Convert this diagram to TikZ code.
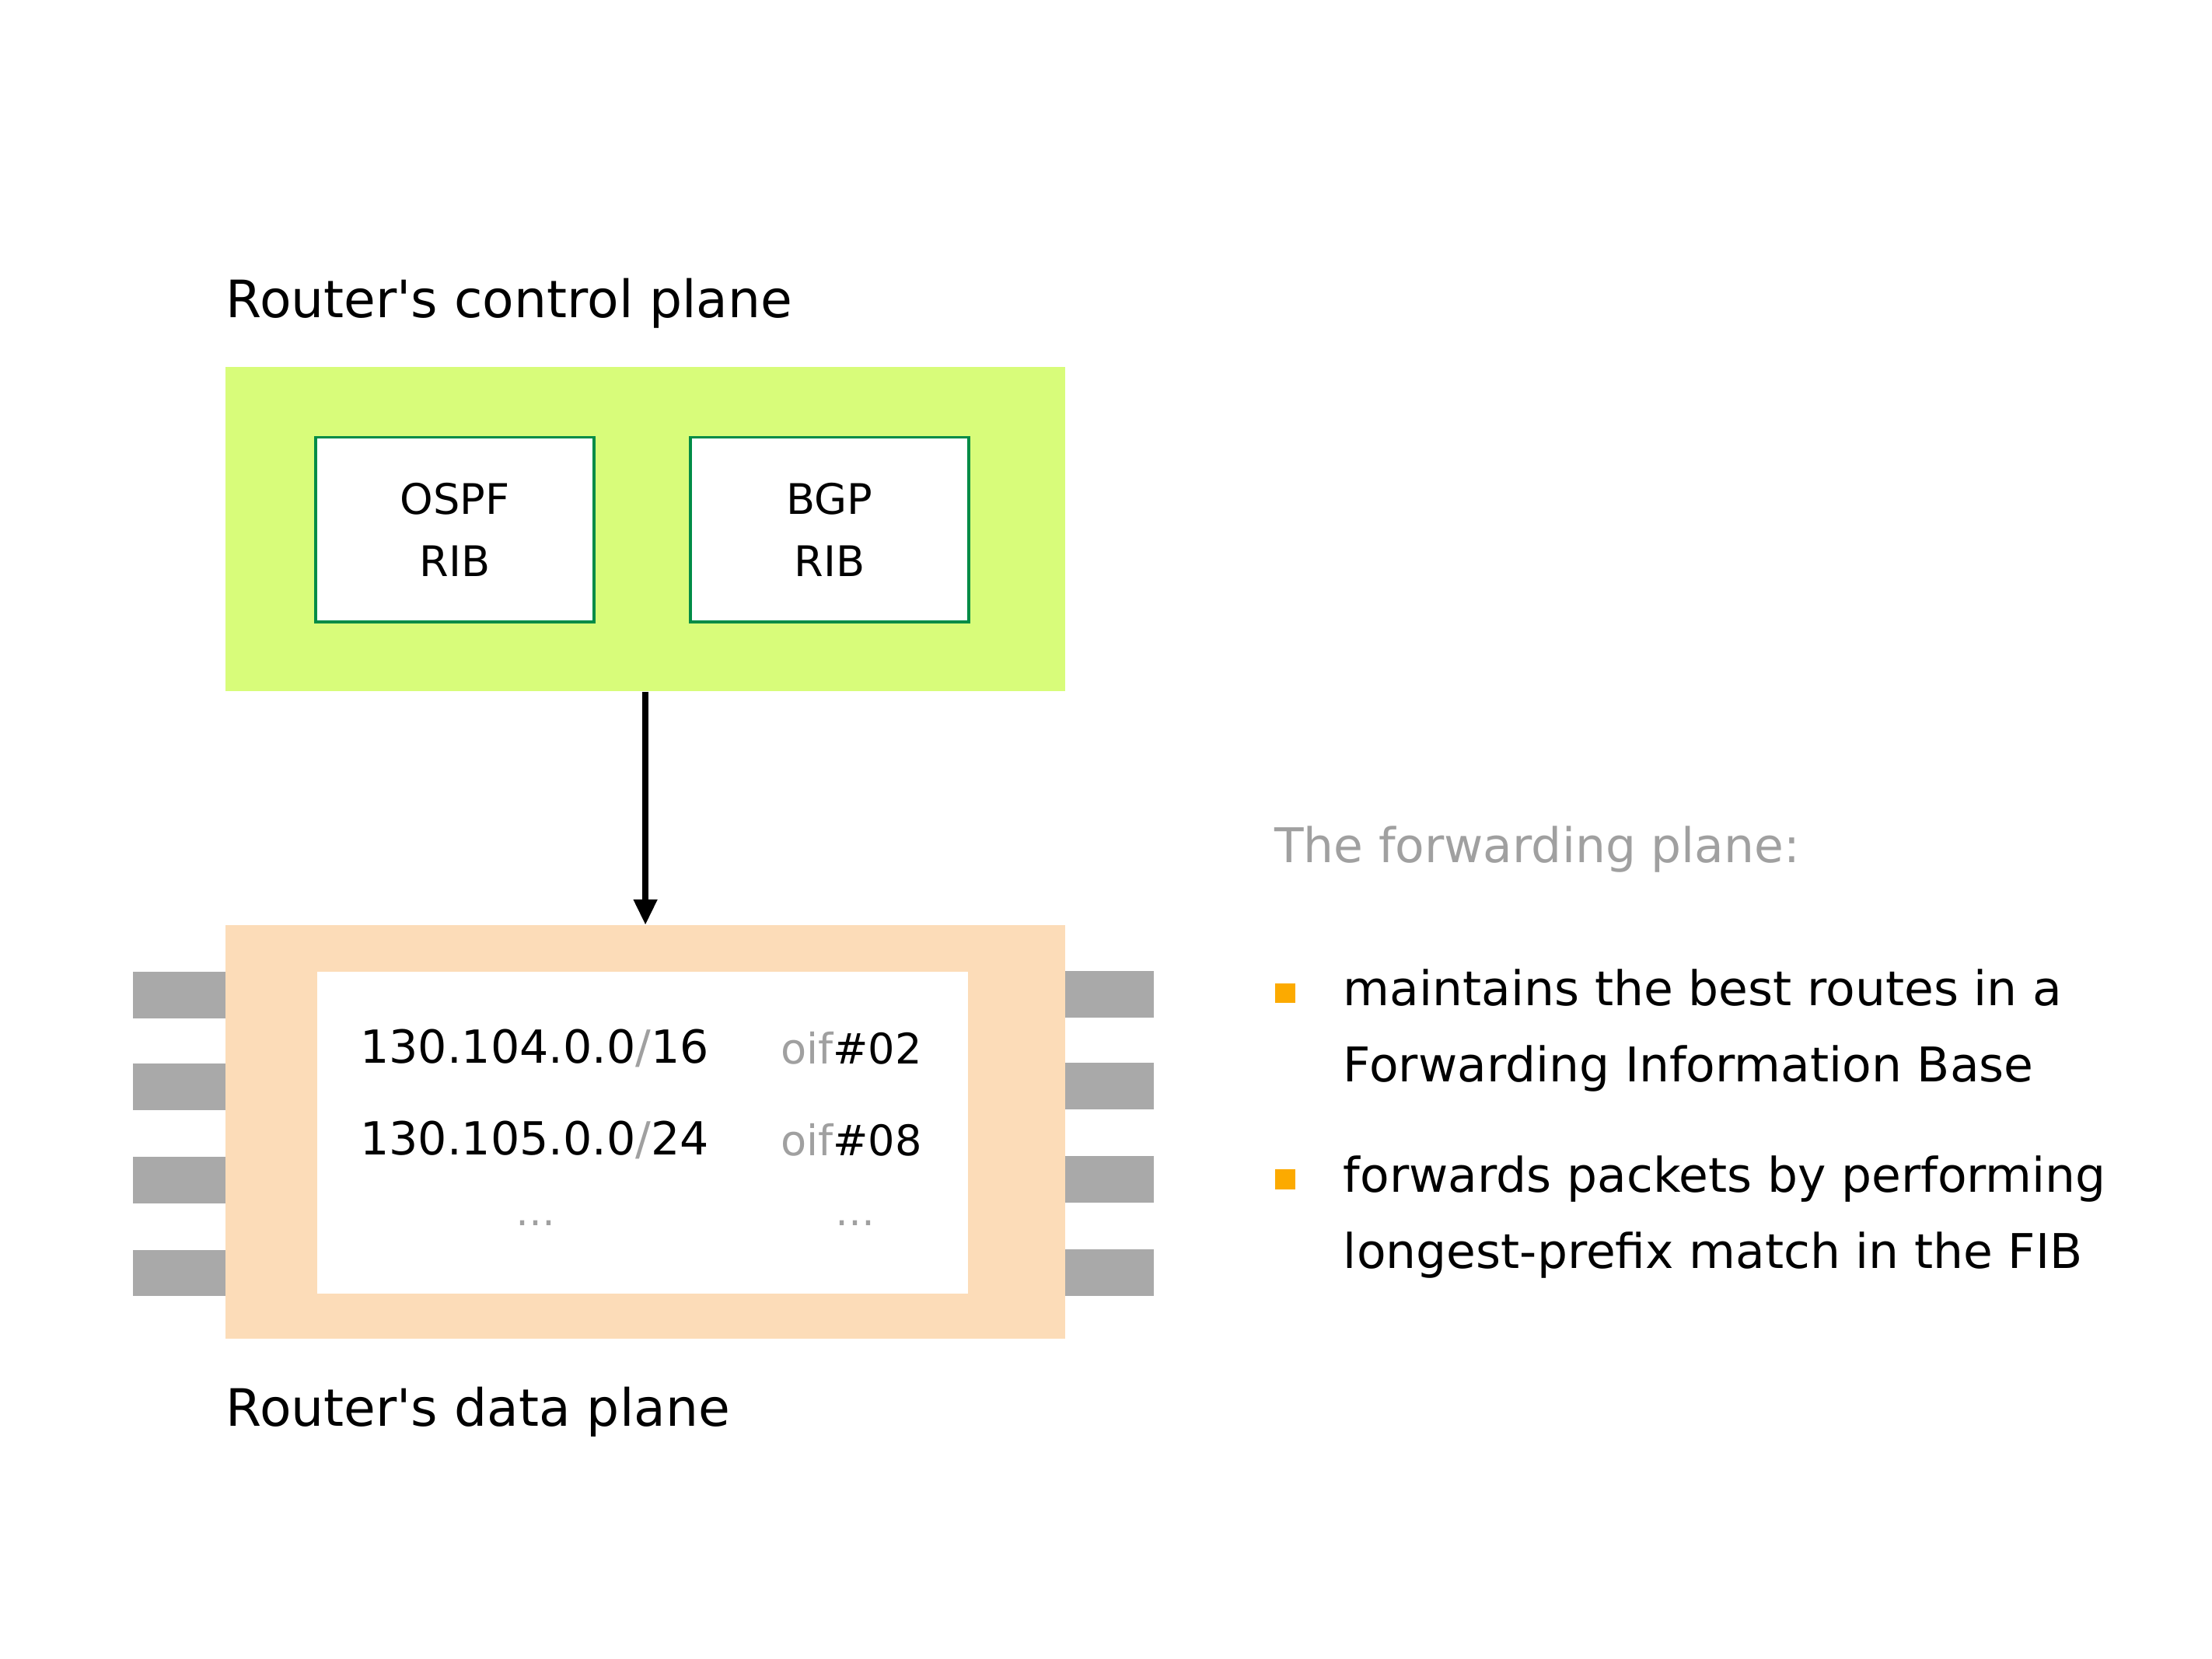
\documentclass[tikz,border=0pt]{standalone}
\usepackage{fontspec}
\setmainfont{DejaVu Sans}
\usetikzlibrary{arrows.meta,positioning}
\definecolor{cplane}{RGB}{216,252,122}
\definecolor{dplane}{RGB}{252,220,184}
\definecolor{ribgreen}{RGB}{0,140,70}
\definecolor{tabgray}{RGB}{169,169,169}
\definecolor{txtgray}{RGB}{160,160,160}
\definecolor{bulletorange}{RGB}{252,170,0}

\begin{document}
\begin{tikzpicture}[x=0.02cm,y=-0.02cm,
  font=\fontsize{19.3}{30.7}\selectfont,
  plane/.style={minimum width=11.9cm,inner sep=0pt},
  rib/.style={draw=ribgreen,line width=1.2pt,fill=white,minimum width=3.95cm,minimum height=2.62cm,align=center,font=\fontsize{17}{25}\selectfont},
  port/.style={fill=tabgray,minimum height=0.66cm,inner sep=0pt},
  entry/.style={anchor=west,inner sep=0pt,font=\fontsize{17}{20}\selectfont},
  caption/.style={anchor=west,inner sep=0pt},
  title/.style={caption,font=\fontsize{20.8}{25}\selectfont},
  sq/.style={fill=bulletorange,minimum size=0.28cm,inner sep=0pt},
  arr/.style={-{Triangle[length=0.36cm,width=0.32cm]},line width=2.3pt},
  ]
  \useasboundingbox (0,0) rectangle (1568,1176);
  % control plane
  \node[plane,fill=cplane,minimum height=4.6cm] (ctrl) at (457.5,375) {};
  \node[rib] (ospf) at (322.5,375.5) {OSPF\\RIB};
  \node[rib] (bgp) at (588,375.5) {BGP\\RIB};
  \node[title] (ctrl-lbl) at (160,215) {Router\textquotesingle s control plane};
  % data plane with ports
  \foreach \y [count=\i] in {705.5,770.5,836.5,902.5} {
    \node[port,minimum width=1.32cm] (pl\i) at (127,\y) {};
    \node[port,minimum width=1.26cm] (pr\i) at (786.5,\y-0.5) {};
  }
  \node[plane,fill=dplane,minimum height=5.86cm] (data) at (457.5,802.5) {};
  \node[fill=white,minimum width=9.22cm,minimum height=4.56cm,inner sep=0pt] (fib) at (455.5,803) {};
  \node[title] (data-lbl) at (160,1001) {Router\textquotesingle s data plane};
  % FIB entries
  \node[entry,font=\fontsize{18.4}{20}\selectfont] (pfx1) at (255,743) {130.104.0.0{\color{txtgray}/}16};
  \node[entry] (oif1) at (553,743) {{\color{txtgray}oif}\#02};
  \node[entry,font=\fontsize{18.4}{20}\selectfont] (pfx2) at (255,808) {130.105.0.0{\color{txtgray}/}24};
  \node[entry] (oif2) at (553,808) {{\color{txtgray}oif}\#08};
  \node[txtgray,font=\fontsize{16}{18}\selectfont] (dots1) at (380,867) {\ldots};
  \node[txtgray,font=\fontsize{16}{18}\selectfont] (dots2) at (606,867) {\ldots};
  \draw[arr] (ctrl) -- (data);
  % forwarding plane notes
  \node[caption,txtgray] (fwd) at (903,602) {The forwarding plane:};
  \node[sq] (sq1) at (911,704) {};
  \node[caption,align=left,anchor=north west] (item1) at (952,687) {maintains the best routes in a\\Forwarding Information Base};
  \node[sq] (sq2) at (911,836) {};
  \node[caption,align=left,anchor=north west] (item2) at (952,819) {forwards packets by performing\\longest-prefix match in the FIB};
\end{tikzpicture}
\end{document}
